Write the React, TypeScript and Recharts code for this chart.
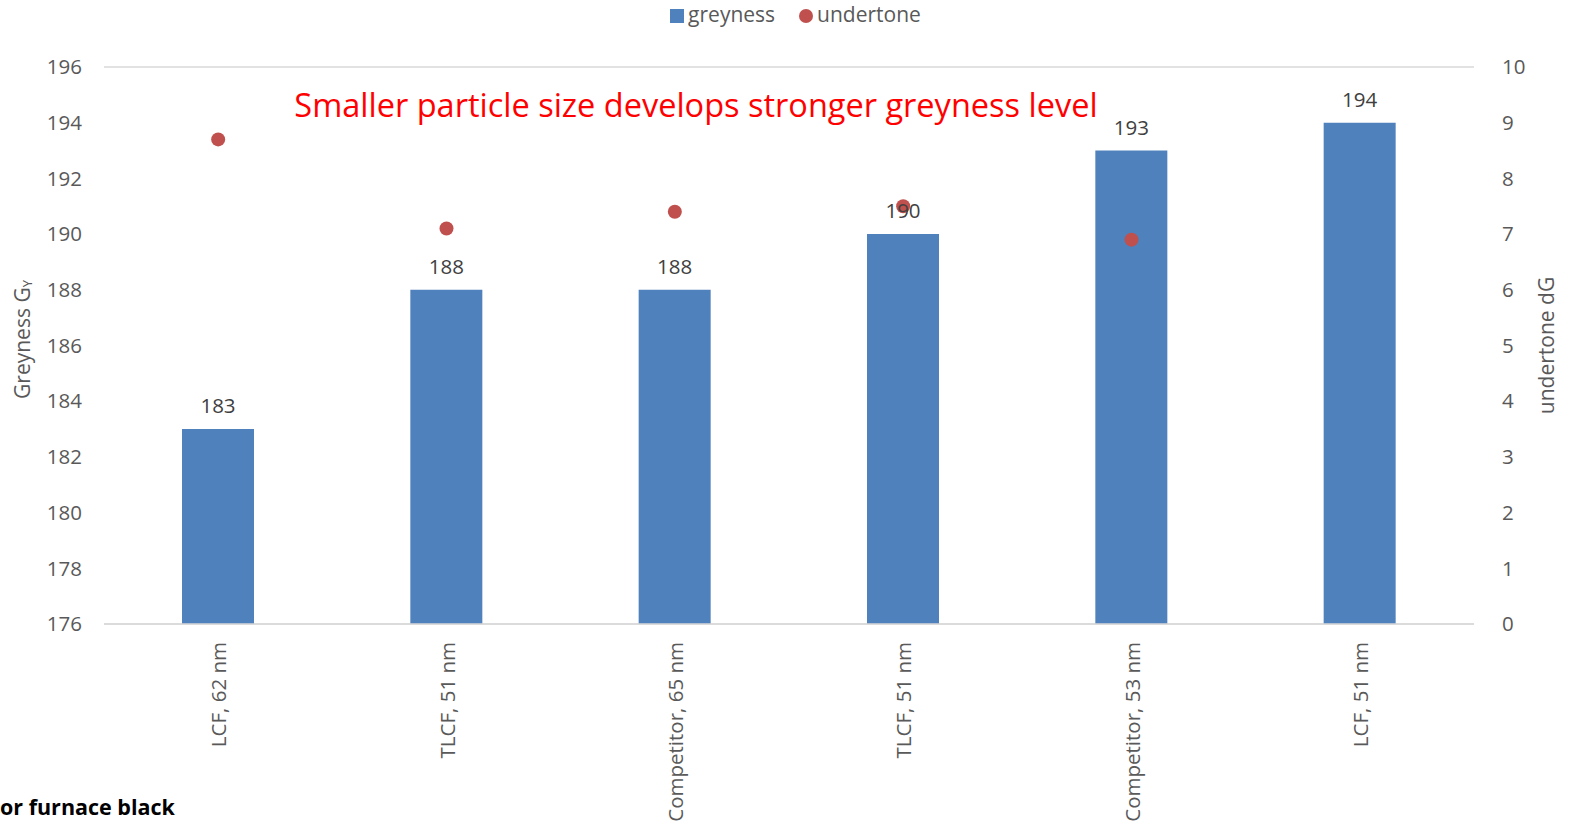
import { ComposedChart, Bar, Line, XAxis, YAxis, CartesianGrid, Legend, LabelList } from 'recharts';

const categories = ['LCF, 62 nm', 'TLCF, 51 nm', 'Competitor, 65 nm', 'TLCF, 51 nm', 'Competitor, 53 nm', 'LCF, 51 nm'];
const greyness = [183, 188, 188, 190, 193, 194];
const undertone: (number | null)[] = [8.7, 7.1, 7.4, 7.5, 6.9, null];
const leftTicks = [176, 178, 180, 182, 184, 186, 188, 190, 192, 194, 196];
const rightTicks = [0, 1, 2, 3, 4, 5, 6, 7, 8, 9, 10];

const data = categories.map((name, i) => ({
  name,
  greyness: greyness[i],
  undertone: undertone[i],
}));

const FONT = '"Open Sans", sans-serif';
const GREY = '#595959';
const FS = 20.5;

function LeftLabel(props: any) {
  const vb = props.viewBox;
  const cx = 22;
  const cy = vb.y + vb.height / 2 - 6;
  return (
    <text x={cx} y={cy} transform={`rotate(-90 ${cx} ${cy})`} textAnchor="middle" dominantBaseline="central"
      fill={GREY} fontSize={21} fontFamily={FONT}>
      Greyness G<tspan fontSize={13} dy={5}>Y</tspan>
    </text>
  );
}

function RightLabel(props: any) {
  const vb = props.viewBox;
  const cx = 1546;
  const cy = vb.y + vb.height / 2;
  return (
    <text x={cx} y={cy} transform={`rotate(-90 ${cx} ${cy})`} textAnchor="middle" dominantBaseline="central"
      fill={GREY} fontSize={21} fontFamily={FONT}>
      undertone dG
    </text>
  );
}

function CatTick(props: any) {
  const { x, y, payload } = props;
  return (
    <text x={x} y={y + 10} transform={`rotate(-90 ${x} ${y + 10})`} textAnchor="end" dominantBaseline="central"
      fill={GREY} fontSize={20.5} fontFamily={FONT}>
      {payload.value}
    </text>
  );
}

export default function App() {
  return (
    <div style={{ position: 'absolute', left: 0, top: 0, width: 1573, height: 828, background: '#fff', overflow: 'hidden' }}>
      <ComposedChart width={1573} height={828} data={data} margin={{ top: 35, right: 0, bottom: 0, left: 0 }}>
        <CartesianGrid vertical={false} stroke="#d9d9d9" strokeWidth={1.5} />
        <XAxis dataKey="name" height={204} tickLine={false} axisLine={{ stroke: '#d9d9d9', strokeWidth: 1.5 }}
          tick={<CatTick />} interval={0} />
        <YAxis yAxisId="left" domain={[176, 196]} ticks={leftTicks} width={104} axisLine={false} tickLine={false}
          tick={{ fill: GREY, fontSize: FS, fontFamily: FONT }} tickMargin={16} label={<LeftLabel />} />
        <YAxis yAxisId="right" orientation="right" domain={[0, 10]} ticks={rightTicks} width={99} axisLine={false}
          tickLine={false} tick={{ fill: GREY, fontSize: FS, fontFamily: FONT, textAnchor: 'start' }} tickMargin={22}
          label={<RightLabel />} />
        <Legend verticalAlign="top" height={32} wrapperStyle={{ top: 0, left: 21, fontFamily: FONT, fontSize: 21 }}
          formatter={(v: string) => <span style={{ color: GREY, marginRight: 14 }}>{v}</span>} />
        <Bar yAxisId="left" dataKey="greyness" name="greyness" fill="#4F81BD" barSize={72} legendType="square"
          isAnimationActive={false}>
          <LabelList dataKey="greyness" position="top" offset={16} fill="#404040" fontSize={FS} fontFamily={FONT} />
        </Bar>
        <Line yAxisId="right" dataKey="undertone" name="undertone" stroke="#C0504D" strokeOpacity={0} legendType="circle"
          dot={{ r: 7, fill: '#C0504D', stroke: 'none' }} activeDot={false} isAnimationActive={false} />
      </ComposedChart>
      <div style={{ position: 'absolute', left: 0, width: 1392, top: 82, textAlign: 'center', color: '#ff0000',
        fontFamily: FONT, fontSize: 32.5, whiteSpace: 'nowrap' }}>
        Smaller particle size develops stronger greyness level
      </div>
      <div style={{ position: 'absolute', left: 0, top: 792, color: '#000', fontFamily: FONT, fontSize: 21.5,
        fontWeight: 'bold', whiteSpace: 'nowrap' }}>
        or furnace black
      </div>
    </div>
  );
}
